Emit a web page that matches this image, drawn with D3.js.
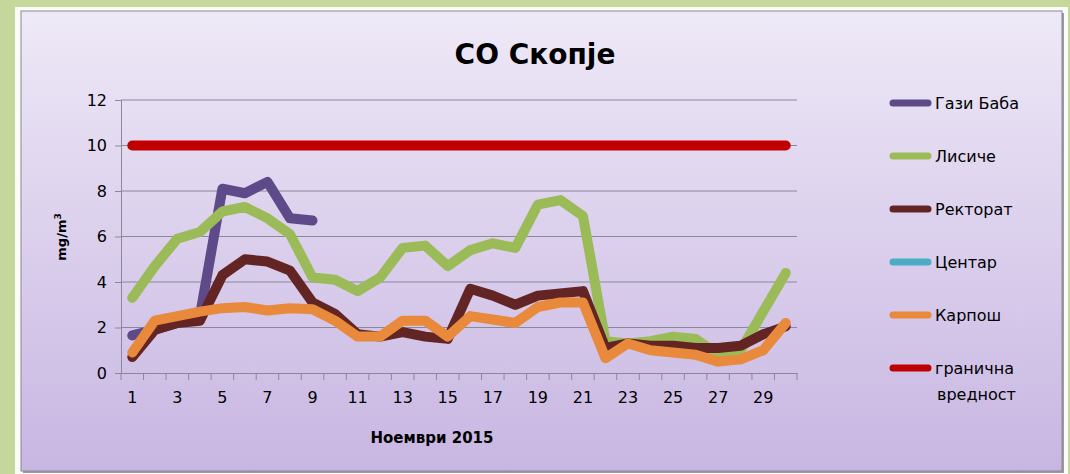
<!DOCTYPE html>
<html>
<head>
<meta charset="utf-8">
<script src="https://cdn.jsdelivr.net/npm/d3@7"></script>
<style>
  body { margin: 0; background: #c5d79b; }
  svg { display: block; }
  text { font-family: "DejaVu Sans", sans-serif; fill: #000; }
</style>
</head>
<body>
<svg id="chart" width="1070" height="474"></svg>
<script>
// дијагрм CO Скопје, ноември 2015
const days = d3.range(1, 31);
const gaziBaba = [1.65, 1.9, 2.2, 2.5, 8.1, 7.9, 8.4, 6.8, 6.7, null, null, null, null, null, null,
  null, null, null, null, null, null, null, null, null, null, null, null, null, null, null];
const lisice = [3.3, 4.7, 5.9, 6.2, 7.1, 7.3, 6.8, 6.1, 4.2, 4.1, 3.6, 4.2, 5.5, 5.6, 4.7,
  5.4, 5.7, 5.5, 7.4, 7.6, 6.9, 1.4, 1.3, 1.4, 1.6, 1.5, 0.8, 1.0, 2.7, 4.4];
const rektorat = [0.7, 1.9, 2.2, 2.3, 4.3, 5.0, 4.9, 4.5, 3.1, 2.6, 1.7, 1.6, 1.8, 1.6, 1.5,
  3.7, 3.4, 3.0, 3.4, 3.5, 3.6, 1.1, 1.3, 1.2, 1.2, 1.1, 1.1, 1.2, 1.7, 2.05];
const centar = days.map(() => null);
const karpos = [0.9, 2.3, 2.5, 2.7, 2.85, 2.9, 2.75, 2.85, 2.8, 2.3, 1.6, 1.6, 2.3, 2.3, 1.6,
  2.5, 2.35, 2.2, 2.9, 3.1, 3.1, 0.65, 1.3, 1.0, 0.9, 0.8, 0.5, 0.6, 1.0, 2.2];
const granica = days.map(() => 10);

const seriesNames = ["Гази Баба", "Лисиче", "Ректорат", "Центар", "Карпош", ["гранична", "вредност"]];
const seriesData = [gaziBaba, lisice, rektorat, centar, karpos, granica];
const seriesColors = ["#5e4a88", "#9bbb59", "#632523", "#4bacc6", "#e8893c", "#c00000"];
const yTicks = [0, 2, 4, 6, 8, 10, 12];

const svg = d3.select("#chart");

// позадина
const defs = svg.append("defs");
const grad = defs.append("linearGradient").attr("id", "bg").attr("x1", 0).attr("y1", 0).attr("x2", 0).attr("y2", 1);
grad.append("stop").attr("offset", "0%").attr("stop-color", "#eee9f7");
grad.append("stop").attr("offset", "100%").attr("stop-color", "#c8b6e2");

svg.append("rect").attr("x", 15).attr("y", 7).attr("width", 1053).attr("height", 470).attr("fill", "#fbfcf8");
svg.append("rect").attr("x", 23).attr("y", 13).attr("width", 1041).attr("height", 460).attr("fill", "#9a98a2");
svg.append("rect").attr("x", 21).attr("y", 11).attr("width", 1041).attr("height", 460)
  .attr("fill", "url(#bg)").attr("stroke", "#8a8794").attr("stroke-width", 1);

const pLeft = 121, pRight = 797, pTop = 100, pBottom = 373;

const x = d3.scaleBand().domain(days).range([pLeft, pRight]);
const y = d3.scaleLinear().domain([0, 12]).range([pBottom, pTop]);

// мрежа
svg.append("g").selectAll("line").data(yTicks.slice(1)).join("line")
  .attr("x1", pLeft).attr("x2", pRight)
  .attr("y1", d => y(d)).attr("y2", d => y(d))
  .attr("stroke", "#8c8898").attr("stroke-width", 1);

const yAxis = svg.append("g").attr("transform", `translate(${pLeft},0)`)
  .call(d3.axisLeft(y).tickValues(yTicks).tickSize(6).tickPadding(8));
yAxis.select(".domain").attr("stroke", "#8c8898");
yAxis.selectAll(".tick line").attr("stroke", "#8c8898");
yAxis.selectAll("text").attr("font-size", 16);

const xAxis = svg.append("g").attr("transform", `translate(0,${pBottom})`)
  .call(d3.axisBottom(x).tickSize(0).tickPadding(19).tickFormat(d => d % 2 === 1 ? d : ""));
xAxis.select(".domain").attr("stroke", "#8c8898");
xAxis.selectAll("text").attr("font-size", 16);

// поделби меѓу категориите
svg.append("g").selectAll("line").data(days.concat([31])).join("line")
  .attr("x1", d => d <= 30 ? x(d) : pRight).attr("x2", d => d <= 30 ? x(d) : pRight)
  .attr("y1", pBottom).attr("y2", pBottom + 7)
  .attr("stroke", "#8c8898");

const line = d3.line()
  .defined(d => d != null)
  .x((d, i) => x(days[i]) + x.bandwidth() / 2)
  .y(d => y(d));

const order = [5, 0, 1, 2, 3, 4];
order.forEach(k => {
  svg.append("path").datum(seriesData[k])
    .attr("d", line)
    .attr("fill", "none")
    .attr("stroke", seriesColors[k])
    .attr("stroke-width", 10)
    .attr("stroke-linejoin", "round")
    .attr("stroke-linecap", "round");
});

// легенда
const leg = svg.append("g");
seriesNames.forEach((name, i) => {
  const ly = 103 + i * 53;
  leg.append("line").attr("x1", 893).attr("x2", 928).attr("y1", ly).attr("y2", ly)
    .attr("stroke", seriesColors[i]).attr("stroke-width", 7).attr("stroke-linecap", "round");
  const t = leg.append("text").attr("x", 935).attr("y", ly + 6).attr("font-size", 16);
  if (Array.isArray(name)) {
    t.text(name[0]);
    leg.append("text").attr("x", 937).attr("y", ly + 32).attr("font-size", 16).text(name[1]);
  } else {
    t.text(name);
  }
});

svg.append("text").attr("x", 535).attr("y", 64).attr("text-anchor", "middle")
  .attr("font-size", 28).attr("font-weight", "bold").text("CO Скопје");

svg.append("text").attr("transform", "translate(66,237) rotate(-90)").attr("text-anchor", "middle")
  .attr("font-size", 13).attr("font-weight", "bold")
  .html('mg/m<tspan dy="-5" font-size="9">3</tspan>');

svg.append("text").attr("x", 432).attr("y", 443).attr("text-anchor", "middle")
  .attr("font-size", 15).attr("font-weight", "bold").text("Ноември 2015");
</script>
</body>
</html>
